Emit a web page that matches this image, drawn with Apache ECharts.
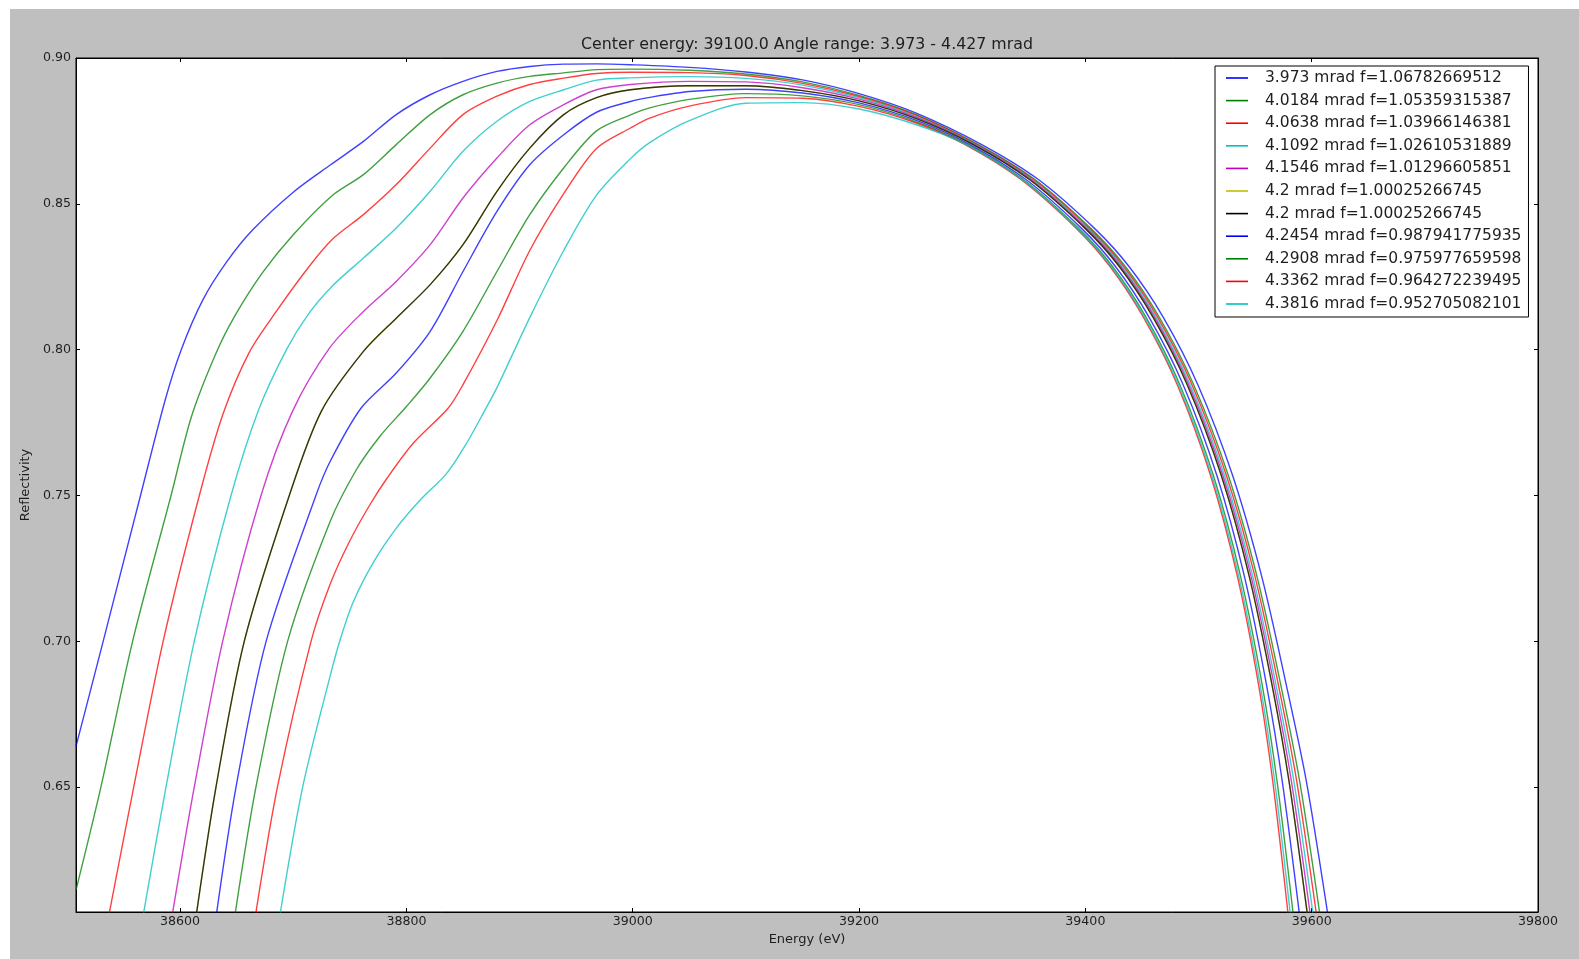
<!DOCTYPE html>
<html>
<head>
<meta charset="utf-8">
<script src="https://cdn.jsdelivr.net/npm/echarts@6/dist/echarts.min.js"></script>
<style>
  html, body { margin: 0; padding: 0; background: #ffffff; }
  #frame { position: absolute; left: 10px; top: 9px; width: 1569px; height: 950px; background: #bfbfbf; }
  #chart { position: absolute; left: 0; top: 0; width: 1579px; height: 959px; }
</style>
</head>
<body>
<div id="frame"></div>
<div id="chart"></div>
<script>
// Reflectivity curves, [energy eV, reflectivity]
const r3973 = [[38508,0.664],[38532,0.700],[38565,0.750],[38587,0.783],[38601,0.800],[38620,0.817],[38641,0.830],[38664,0.841],[38700,0.854],[38733,0.8634],[38762,0.8714],[38791,0.8806],[38821,0.8874],[38850,0.8920],[38880,0.8954],[38909,0.8971],[38939,0.8979],[38968,0.8980],[38998,0.8977],[39050,0.8968],[39100,0.8952],[39150,0.8925],[39200,0.8878],[39250,0.8812],[39307.6,0.8705],[39357.9,0.8585],[39408.3,0.8415],[39438.6,0.8285],[39469,0.811],[39499.4,0.788],[39530,0.757],[39556,0.722],[39577.6,0.685],[39595.3,0.652],[39614,0.607]];
const r40184 = [[38508,0.6147],[38530,0.650],[38558,0.700],[38592,0.750],[38610,0.777],[38632,0.799],[38649,0.812],[38673,0.8265],[38700,0.8394],[38735,0.853],[38762,0.860],[38791,0.8703],[38821,0.8806],[38850,0.8874],[38880,0.8914],[38909,0.8937],[38939,0.8949],[38968,0.8960],[38998,0.8962],[39050,0.8958],[39100,0.8945],[39150,0.8918],[39200,0.8872],[39250,0.8807],[39304.6,0.8705],[39354.8,0.8585],[39405,0.8415],[39435.3,0.8285],[39465.5,0.811],[39495.7,0.788],[39526.2,0.757],[39551.8,0.722],[39572.7,0.685],[39589.4,0.652],[39607,0.607]];
const r40638 = [[38537.5,0.607],[38559,0.650],[38585,0.700],[38617,0.750],[38638,0.778],[38661,0.799],[38685,0.8131],[38714,0.8285],[38735,0.838],[38762,0.8463],[38791,0.8566],[38821,0.8691],[38850,0.8806],[38880,0.8869],[38909,0.8909],[38939,0.8931],[38968,0.8947],[38998,0.8951],[39050,0.8950],[39100,0.8940],[39150,0.8913],[39200,0.8868],[39250,0.8804],[39303.4,0.8705],[39353.5,0.8585],[39403.7,0.8415],[39433.8,0.8285],[39464,0.811],[39494.2,0.788],[39524.5,0.757],[39550,0.722],[39570.6,0.685],[39586.8,0.652],[39604,0.607]];
const r41092 = [[38567.8,0.607],[38587.5,0.650],[38612.5,0.700],[38645,0.750],[38669,0.779],[38694,0.800],[38714,0.8125],[38735,0.822],[38762,0.8314],[38791,0.8417],[38821,0.8543],[38850,0.868],[38880,0.8783],[38909,0.8851],[38939,0.8891],[38968,0.8924],[38998,0.8932],[39050,0.8936],[39100,0.8930],[39150,0.8907],[39200,0.8864],[39250,0.8800],[39302.1,0.8705],[39352.2,0.8585],[39402.3,0.8415],[39432.4,0.8285],[39462.5,0.811],[39492.6,0.788],[39522.8,0.757],[39548.1,0.722],[39568.5,0.685],[39584.3,0.652],[39601,0.607]];
const r41546 = [[38593.4,0.607],[38612.5,0.650],[38637.6,0.700],[38671.5,0.750],[38699.5,0.779],[38732,0.8005],[38762,0.8131],[38791,0.8234],[38821,0.836],[38850,0.852],[38880,0.8657],[38909,0.8771],[38939,0.884],[38968,0.8891],[38998,0.8909],[39050,0.8920],[39100,0.8918],[39150,0.8898],[39200,0.8859],[39250,0.8797],[39301,0.8705],[39351.1,0.8585],[39401.2,0.8415],[39431.2,0.8285],[39461.3,0.811],[39491.3,0.788],[39521.4,0.757],[39546.6,0.722],[39566.8,0.685],[39582.1,0.652],[39598.5,0.607]];
const r42 = [[38614.6,0.607],[38631.7,0.650],[38656.7,0.700],[38696.5,0.750],[38725,0.779],[38762,0.7994],[38791,0.8108],[38821,0.8223],[38850,0.836],[38880,0.8543],[38909,0.8691],[38939,0.8806],[38968,0.8864],[38998,0.8891],[39050,0.8905],[39100,0.8905],[39150,0.8888],[39200,0.8853],[39250,0.8793],[39300,0.8705],[39350,0.8585],[39400,0.8415],[39430,0.8285],[39460,0.811],[39490,0.788],[39520,0.757],[39545,0.722],[39565,0.685],[39580,0.652],[39596,0.607]];
const r42454 = [[38632.3,0.607],[38649.4,0.650],[38676,0.700],[38720,0.750],[38733,0.762],[38760,0.7800],[38791,0.7920],[38821,0.8063],[38850,0.8268],[38880,0.8474],[38909,0.8634],[38939,0.8737],[38968,0.8814],[38998,0.8851],[39015,0.8865],[39050,0.8885],[39100,0.8893],[39150,0.8880],[39200,0.8846],[39250,0.8787],[39297.1,0.8705],[39346.9,0.8585],[39396.8,0.8415],[39426.6,0.8285],[39456.5,0.811],[39486.4,0.788],[39516.1,0.757],[39540.7,0.722],[39560.1,0.685],[39574,0.652],[39589,0.607]];
const r42908 = [[38648.8,0.607],[38667,0.650],[38695,0.700],[38732.5,0.741],[38756,0.759],[38777,0.7705],[38800,0.7805],[38821,0.7903],[38850,0.8063],[38880,0.8268],[38909,0.8463],[38939,0.8623],[38968,0.8750],[38998,0.8805],[39015,0.8829],[39050,0.8858],[39100,0.8878],[39150,0.8870],[39200,0.8840],[39250,0.8782],[39294.8,0.8705],[39344.5,0.8585],[39394.2,0.8415],[39424,0.8285],[39453.8,0.811],[39483.5,0.788],[39513,0.757],[39537.3,0.722],[39556.3,0.685],[39569.4,0.652],[39583.5,0.607]];
const r43362 = [[38667,0.607],[38686,0.650],[38715.7,0.700],[38732.5,0.7195],[38750,0.7345],[38768,0.7470],[38783,0.7560],[38806,0.7679],[38837,0.7800],[38850,0.7880],[38880,0.8100],[38909,0.8340],[38939,0.8535],[38968,0.8690],[38998,0.8760],[39015,0.8794],[39050,0.8835],[39100,0.8864],[39150,0.8862],[39200,0.8834],[39250,0.8778],[39292.9,0.8705],[39342.5,0.8585],[39392.2,0.8415],[39421.8,0.8285],[39451.5,0.811],[39481.2,0.788],[39510.5,0.757],[39534.5,0.722],[39553.1,0.685],[39565.6,0.652],[39579,0.607]];
const r43816 = [[38688.6,0.607],[38708.3,0.650],[38732.5,0.688],[38741.3,0.7004],[38753,0.7135],[38770.7,0.7270],[38791.4,0.7390],[38812,0.7484],[38835.6,0.7576],[38853.3,0.7680],[38869,0.7790],[38880,0.7870],[38909,0.8110],[38939,0.8340],[38968,0.8530],[38998,0.8655],[39015,0.8710],[39050,0.8785],[39100,0.8845],[39150,0.8847],[39200,0.8825],[39250,0.8772],[39293.7,0.8705],[39343.4,0.8585],[39393.1,0.8415],[39422.8,0.8285],[39452.5,0.811],[39482.2,0.788],[39511.6,0.757],[39535.7,0.722],[39554.5,0.685],[39567.3,0.652],[39581,0.607]];

const seriesNames = [
  '3.973 mrad f=1.06782669512',
  '4.0184 mrad f=1.05359315387',
  '4.0638 mrad f=1.03966146381',
  '4.1092 mrad f=1.02610531889',
  '4.1546 mrad f=1.01296605851',
  '4.2 mrad f=1.00025266745',
  '4.2 mrad f=1.00025266745\u200b',
  '4.2454 mrad f=0.987941775935',
  '4.2908 mrad f=0.975977659598',
  '4.3362 mrad f=0.964272239495',
  '4.3816 mrad f=0.952705082101'
];
const seriesData = [r3973, r40184, r40638, r41092, r41546, r42, r42, r42454, r42908, r43362, r43816];
const lineColors = ['#0000ff','#008000','#ff0000','#00bfbf','#bf00bf','#bfbf00','#000000','#0000ff','#008000','#ff0000','#00bfbf'];

const xTicks = [38600, 38800, 39000, 39200, 39400, 39600, 39800];
const yTicks = [0.65, 0.70, 0.75, 0.80, 0.85, 0.90];
const xRange = [38508, 39800];
const yRange = [0.6072, 0.90];

const titleText = 'Center energy: 39100.0 Angle range: 3.973 - 4.427 mrad';
const FONT = '"DejaVu Sans", sans-serif';
const INK = '#1e1e1e';

const chart = echarts.init(document.getElementById('chart'), null, { renderer: 'canvas' });

const tickStyle = { show: true, inside: true, length: 4, lineStyle: { color: '#000', width: 1 } };

const option = {
  backgroundColor: 'transparent',
  animation: false,
  grid: { left: 76, top: 58, width: 1462, height: 854, show: true, backgroundColor: '#ffffff', borderColor: '#000', borderWidth: 1 },
  graphic: [{
    type: 'text', x: 807, y: 45,
    style: { text: titleText, textAlign: 'center', textVerticalAlign: 'middle', fill: INK, font: '15.8px ' + FONT }
  }],
  legend: {
    orient: 'vertical', left: 1215, top: 66,
    padding: [3, 7, 4, 11],
    itemGap: 4.6, itemWidth: 22, itemHeight: 1.6,
    icon: 'rect',
    backgroundColor: '#ffffff', borderColor: '#000', borderWidth: 1, borderRadius: 0,
    textStyle: { fontFamily: FONT, fontSize: 15.5, color: INK, lineHeight: 18, padding: [0, 0, 0, 12] },
    data: seriesNames
  },
  xAxis: [{
    type: 'value', position: 'bottom', min: xRange[0], max: xRange[1],
    axisLine: { show: true, onZero: false, lineStyle: { color: '#000', width: 1 } },
    axisTick: Object.assign({ customValues: xTicks }, tickStyle),
    axisLabel: { customValues: xTicks, formatter: v => String(v), color: INK, fontFamily: FONT, fontSize: 12.6, margin: 3 },
    splitLine: { show: false },
    name: 'Energy (eV)', nameLocation: 'middle', nameGap: 15,
    nameTextStyle: { color: INK, fontFamily: FONT, fontSize: 13 }
  }, {
    type: 'value', position: 'top', min: xRange[0], max: xRange[1],
    axisLine: { show: true, onZero: false, lineStyle: { color: '#000', width: 1 } },
    axisTick: Object.assign({ customValues: xTicks }, tickStyle),
    axisLabel: { show: false }, splitLine: { show: false }
  }],
  yAxis: [{
    type: 'value', position: 'left', min: yRange[0], max: yRange[1],
    axisLine: { show: true, onZero: false, lineStyle: { color: '#000', width: 1 } },
    axisTick: Object.assign({ customValues: yTicks }, tickStyle),
    axisLabel: { customValues: yTicks, formatter: v => v.toFixed(2), color: INK, fontFamily: FONT, fontSize: 12.6, margin: 5 },
    splitLine: { show: false },
    name: 'Reflectivity', nameLocation: 'middle', nameGap: 39,
    nameTextStyle: { color: INK, fontFamily: FONT, fontSize: 13 }
  }, {
    type: 'value', position: 'right', min: yRange[0], max: yRange[1],
    axisLine: { show: true, onZero: false, lineStyle: { color: '#000', width: 1 } },
    axisTick: Object.assign({ customValues: yTicks }, tickStyle),
    axisLabel: { show: false }, splitLine: { show: false }
  }],
  series: seriesNames.map((name, i) => ({
    name: name,
    type: 'line',
    data: seriesData[i],
    showSymbol: false,
    symbol: 'none',
    smooth: 0.3,
    clip: true,
    color: lineColors[i],
    lineStyle: { color: lineColors[i], width: 1.4, opacity: 0.75 }
  }))
};

chart.setOption(option);
</script>
</body>
</html>
